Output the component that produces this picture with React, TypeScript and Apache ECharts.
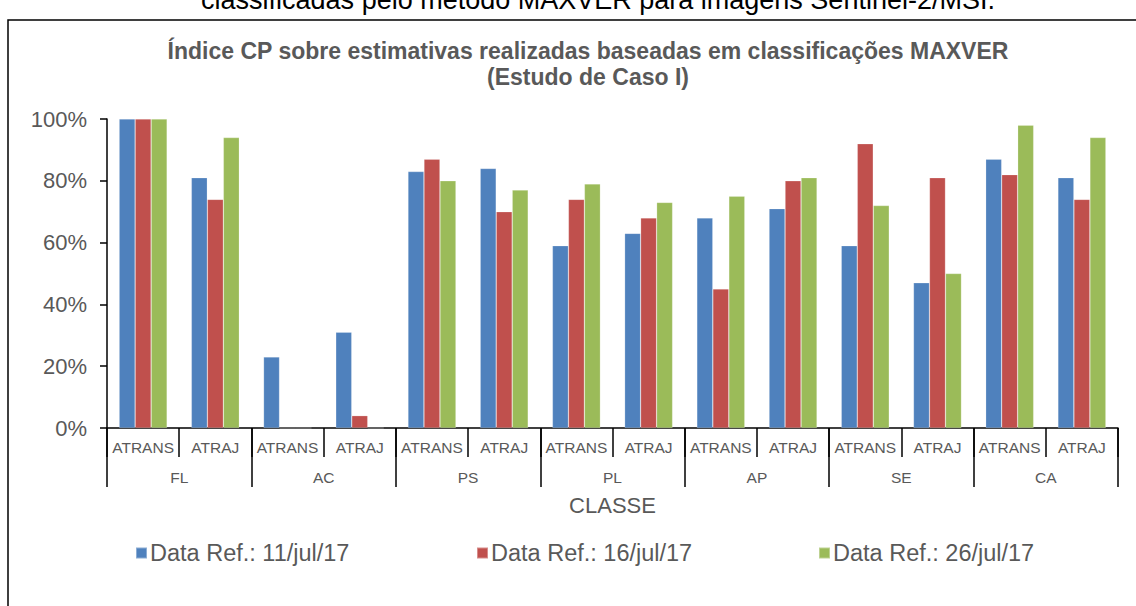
import React, { useEffect, useRef } from "react";
import * as echarts from "echarts";

const subCategories = [
  "ATRANS", "ATRAJ", "ATRANS", "ATRAJ", "ATRANS", "ATRAJ", "ATRANS",
  "ATRAJ", "ATRANS", "ATRAJ", "ATRANS", "ATRAJ", "ATRANS", "ATRAJ",
];
const groups = ["FL", "AC", "PS", "PL", "AP", "SE", "CA"];
const seriesNames = ["Data Ref.: 11/jul/17", "Data Ref.: 16/jul/17", "Data Ref.: 26/jul/17"];
const values11jul = [100, 81, 23, 31, 83, 84, 59, 63, 68, 71, 59, 47, 87, 81];
const values16jul = [100, 74, 0, 4, 87, 70, 74, 68, 45, 80, 92, 81, 82, 74];
const values26jul = [100, 94, 0, 0, 80, 77, 79, 73, 75, 81, 72, 50, 98, 94];
const colors = ["#4F81BD", "#C0504D", "#9BBB59"];

const FONT = "'Liberation Sans', Arial, sans-serif";
const GRAY = "#595959";

export default function App() {
  const ref = useRef<HTMLDivElement>(null);
  useEffect(() => {
    if (!ref.current) return;
    const chart = echarts.init(ref.current, undefined, { renderer: "svg" });
    const allValues = [values11jul, values16jul, values26jul];
    const legendLefts = [130, 471, 813];
    chart.setOption({
      animation: false,
      backgroundColor: "#fff",
      textStyle: { fontFamily: FONT },
      title: {
        text: "Índice CP sobre estimativas realizadas baseadas em classificações MAXVER\n(Estudo de Caso I)",
        left: 583,
        top: 33,
        textAlign: "center",
        textStyle: {
          fontFamily: FONT,
          fontSize: 23,
          fontWeight: "bold",
          color: GRAY,
          lineHeight: 26,
        },
      },
      graphic: [
        {
          type: "rect",
          shape: { x: 8, y: 20, width: 1160, height: 700 },
          style: { fill: "none", stroke: "#000", lineWidth: 1.5 },
          silent: true,
        },
        {
          type: "text",
          x: 598,
          y: 13,
          style: {
            text: "classificadas pelo método MAXVER para imagens Sentinel-2/MSI.",
            fontFamily: FONT,
            fontSize: 27,
            fill: "#000",
            textAlign: "center",
            textVerticalAlign: "bottom",
          },
          silent: true,
        },
      ],
      legend: seriesNames.map((n, i) => ({
        data: [n],
        left: legendLefts[i],
        top: 536,
        itemWidth: 11,
        itemHeight: 11,
        itemGap: 0,
        icon: "rect",
        textStyle: { fontFamily: FONT, fontSize: 23.5, color: GRAY, padding: [0, 0, 0, -2] },
      })),
      grid: { left: 107, right: 18, top: 119, bottom: 178, containLabel: false },
      xAxis: [
        {
          type: "category",
          data: subCategories,
          position: "bottom",
          axisLine: { show: true, lineStyle: { color: "#000", width: 1.5 } },
          axisTick: { show: true, length: 29, interval: 0, alignWithLabel: false, lineStyle: { color: "#000", width: 1.5 } },
          axisLabel: { interval: 0, margin: 11, fontFamily: FONT, fontSize: 15.5, color: GRAY },
          splitLine: { show: false },
        },
        {
          type: "category",
          data: groups,
          position: "bottom",
          axisLine: { show: false },
          axisTick: { show: true, length: 59, interval: 0, alignWithLabel: false, lineStyle: { color: "#000", width: 1.5 } },
          axisLabel: { interval: 0, margin: 41, fontFamily: FONT, fontSize: 15.5, color: GRAY },
          name: "CLASSE",
          nameLocation: "middle",
          nameGap: 66,
          nameTextStyle: { fontFamily: FONT, fontSize: 22, color: GRAY },
          splitLine: { show: false },
        },
      ],
      yAxis: {
        type: "value",
        min: 0,
        max: 100,
        interval: 20,
        axisLine: { show: true, lineStyle: { color: "#000", width: 1.5 } },
        axisTick: { show: true, length: 7, lineStyle: { color: "#000", width: 1.5 } },
        axisLabel: { formatter: "{value}%", margin: 20, fontFamily: FONT, fontSize: 22, color: GRAY },
        splitLine: { show: false },
      },
      series: seriesNames.map((n, i) => ({
        name: n,
        type: "bar",
        xAxisIndex: 0,
        data: allValues[i],
        barWidth: 16,
        barGap: "0%",
        itemStyle: { color: colors[i], borderColor: "rgba(255,255,255,0.35)", borderWidth: 0.6 },
      })),
    });
    return () => chart.dispose();
  }, []);
  return (
    <div
      ref={ref}
      style={{ position: "fixed", left: 0, top: 0, width: 1136, height: 606 }}
    />
  );
}
